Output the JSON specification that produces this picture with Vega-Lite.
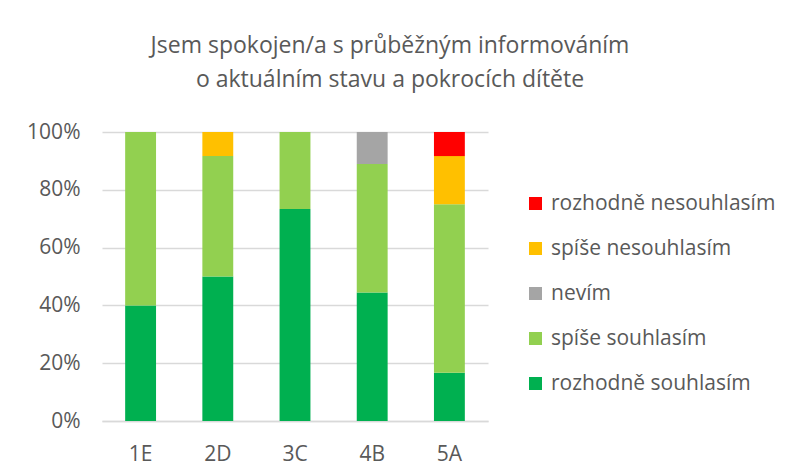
{
  "$schema": "https://vega.github.io/schema/vega-lite/v6.json",
  "width": 386,
  "height": 289,
  "autosize": {"type": "none"},
  "padding": {"left": 102, "top": 132, "right": 300, "bottom": 54},
  "background": "white",
  "title": {
    "text": ["Jsem spokojen/a s průběžným informováním", "o aktuálním stavu a pokrocích dítěte"],
    "anchor": "middle",
    "dx": 95,
    "offset": 29,
    "font": "Open Sans",
    "fontSize": 23,
    "fontWeight": "normal",
    "color": "#595959",
    "lineHeight": 34
  },
  "data": {
    "values": [
      {"trida": "1E", "odpoved": "rozhodně souhlasím", "poradi": 1, "pocet": 2},
      {"trida": "1E", "odpoved": "spíše souhlasím", "poradi": 2, "pocet": 3},
      {"trida": "2D", "odpoved": "rozhodně souhlasím", "poradi": 1, "pocet": 6},
      {"trida": "2D", "odpoved": "spíše souhlasím", "poradi": 2, "pocet": 5},
      {"trida": "2D", "odpoved": "spíše nesouhlasím", "poradi": 4, "pocet": 1},
      {"trida": "3C", "odpoved": "rozhodně souhlasím", "poradi": 1, "pocet": 11},
      {"trida": "3C", "odpoved": "spíše souhlasím", "poradi": 2, "pocet": 4},
      {"trida": "4B", "odpoved": "rozhodně souhlasím", "poradi": 1, "pocet": 4},
      {"trida": "4B", "odpoved": "spíše souhlasím", "poradi": 2, "pocet": 4},
      {"trida": "4B", "odpoved": "nevím", "poradi": 3, "pocet": 1},
      {"trida": "5A", "odpoved": "rozhodně souhlasím", "poradi": 1, "pocet": 2},
      {"trida": "5A", "odpoved": "spíše souhlasím", "poradi": 2, "pocet": 7},
      {"trida": "5A", "odpoved": "spíše nesouhlasím", "poradi": 4, "pocet": 2},
      {"trida": "5A", "odpoved": "rozhodně nesouhlasím", "poradi": 5, "pocet": 1}
    ]
  },
  "mark": {"type": "bar"},
  "encoding": {
    "x": {
      "field": "trida",
      "type": "nominal",
      "scale": {"paddingInner": 0.6, "paddingOuter": 0.3},
      "axis": {
        "title": null,
        "labelAngle": 0,
        "ticks": false,
        "domainColor": "#D9D9D9",
        "domainWidth": 1.5,
        "labelPadding": 22,
        "labelFont": "Open Sans",
        "labelFontSize": 21,
        "labelColor": "#595959"
      }
    },
    "y": {
      "field": "pocet",
      "type": "quantitative",
      "stack": "normalize",
      "scale": {"domain": [0, 1]},
      "axis": {
        "title": null,
        "values": [0, 0.2, 0.4, 0.6, 0.8, 1],
        "format": ".0%",
        "domain": false,
        "ticks": false,
        "gridColor": "#D9D9D9",
        "gridWidth": 1.5,
        "labelPadding": 22,
        "labelFont": "Open Sans",
        "labelFontSize": 21,
        "labelColor": "#595959"
      }
    },
    "color": {
      "field": "odpoved",
      "type": "nominal",
      "scale": {
        "domain": ["rozhodně nesouhlasím", "spíše nesouhlasím", "nevím", "spíše souhlasím", "rozhodně souhlasím"],
        "range": ["#FF0000", "#FFC000", "#A5A5A5", "#92D050", "#00B050"]
      },
      "legend": {
        "title": null,
        "orient": "none",
        "legendX": 423,
        "legendY": 61,
        "symbolType": "square",
        "symbolSize": 169,
        "symbolStrokeWidth": 0,
        "labelFont": "Open Sans",
        "labelFontSize": 21,
        "labelColor": "#595959",
        "labelOffset": 5,
        "labelLimit": 300,
        "rowPadding": 23
      }
    },
    "order": {"field": "poradi", "type": "quantitative"}
  },
  "config": {"view": {"stroke": null}}
}
